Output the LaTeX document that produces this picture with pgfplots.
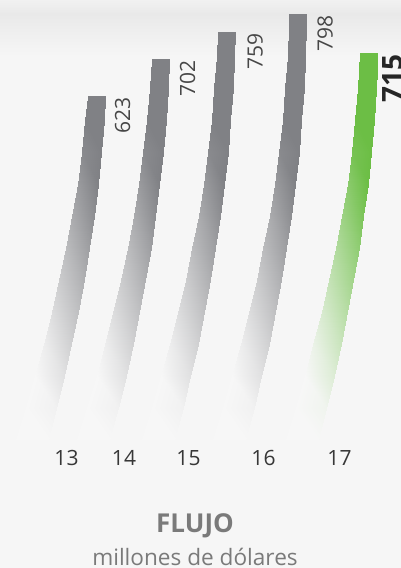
\documentclass[border=0pt]{standalone}
\usepackage{fontspec}
\setmainfont{Open Sans}
\usepackage{pgfplots}
\pgfplotsset{compat=1.18}
\usepackage{pgfplotstable}
\definecolor{bg}{RGB}{246,246,246}
\definecolor{bandgray}{RGB}{233,233,233}
\definecolor{toplight}{RGB}{241,241,241}
\definecolor{labgray}{RGB}{70,70,70}
\definecolor{tickgray}{RGB}{55,55,55}
\definecolor{titlegray}{RGB}{122,122,122}
\pgfplotsset{
  colormap={grayfade}{rgb255=(247,247,247) rgb255=(128,129,133)},
  colormap={greenfade}{rgb255=(247,247,247) rgb255=(108,190,69)}
}
% each bar: left and right edge x, y on the value scale, m = shade meta
\pgfplotstableread{
x y m
15.7 -111 -231
47.7 -111 -111
25.61 -42.7 -162.7
56.09 -42.7 -42.7
34.91 25.6 -94.4
63.87 25.6 25.6
43.6 93.9 -26.1
71.04 93.9 93.9
51.67 162.2 42.2
77.59 162.2 162.2
59.12 230.4 110.4
83.52 230.4 230.4
65.96 298.7 178.7
88.84 298.7 298.7
72.19 367.0 247.0
93.55 367.0 367.0
77.8 435.3 315.3
97.64 435.3 435.3
81.8 503.6 383.6
101.12 503.6 503.6
85.18 571.9 451.9
103.98 571.9 571.9
87.9 623 503
105.1 623 623
}\barA
\pgfplotstableread{
x y m
77.4 -111 -231
109.4 -111 -111
87.31 -42.7 -162.7
117.79 -42.7 -42.7
96.61 25.6 -94.4
125.57 25.6 25.6
105.3 93.9 -26.1
132.74 93.9 93.9
113.37 162.2 42.2
139.29 162.2 162.2
120.82 230.4 110.4
145.22 230.4 230.4
127.66 298.7 178.7
150.54 298.7 298.7
133.89 367.0 247.0
155.25 367.0 367.0
139.5 435.3 315.3
159.34 435.3 435.3
143.5 503.6 383.6
162.82 503.6 503.6
146.88 571.9 451.9
165.68 571.9 571.9
149.66 640.2 520.2
167.92 640.2 640.2
151.9 702 582
169.1 702 702
}\barB
\pgfplotstableread{
x y m
142.2 -111 -231
174.2 -111 -111
152.11 -42.7 -162.7
182.59 -42.7 -42.7
161.41 25.6 -94.4
190.37 25.6 25.6
170.1 93.9 -26.1
197.54 93.9 93.9
178.17 162.2 42.2
204.09 162.2 162.2
185.62 230.4 110.4
210.02 230.4 230.4
192.46 298.7 178.7
215.34 298.7 298.7
198.69 367.0 247.0
220.05 367.0 367.0
204.3 435.3 315.3
224.14 435.3 435.3
208.3 503.6 383.6
227.62 503.6 503.6
211.68 571.9 451.9
230.48 571.9 571.9
214.46 640.2 520.2
232.72 640.2 640.2
216.61 708.5 588.5
234.35 708.5 708.5
217.9 759 639
235.1 759 759
}\barC
\pgfplotstableread{
x y m
213.2 -111 -231
245.2 -111 -111
223.11 -42.7 -162.7
253.59 -42.7 -42.7
232.41 25.6 -94.4
261.37 25.6 25.6
241.1 93.9 -26.1
268.54 93.9 93.9
249.17 162.2 42.2
275.09 162.2 162.2
256.62 230.4 110.4
281.02 230.4 230.4
263.46 298.7 178.7
286.34 298.7 298.7
269.69 367.0 247.0
291.05 367.0 367.0
275.3 435.3 315.3
295.14 435.3 435.3
279.3 503.6 383.6
298.62 503.6 503.6
282.68 571.9 451.9
301.48 571.9 571.9
285.46 640.2 520.2
303.72 640.2 640.2
287.61 708.5 588.5
305.35 708.5 708.5
289.15 776.8 656.8
306.37 776.8 776.8
289.4 798 678
306.6 798 798
}\barD
\pgfplotstableread{
x y m
285.6 -111 -231
317.6 -111 -111
295.51 -42.7 -162.7
325.99 -42.7 -42.7
304.81 25.6 -94.4
333.77 25.6 25.6
313.5 93.9 -26.1
340.94 93.9 93.9
321.57 162.2 42.2
347.49 162.2 162.2
329.02 230.4 110.4
353.42 230.4 230.4
335.86 298.7 178.7
358.74 298.7 298.7
342.09 367.0 247.0
363.45 367.0 367.0
347.7 435.3 315.3
367.54 435.3 435.3
351.7 503.6 383.6
371.02 503.6 503.6
355.08 571.9 451.9
373.88 571.9 571.9
357.86 640.2 520.2
376.12 640.2 640.2
360.4 715 595
377.6 715 715
}\barE
\begin{document}
\begin{tikzpicture}
\useasboundingbox (0,0) rectangle (200.5pt,284pt);
\clip (0,0) rectangle (200.5pt,284pt);
\fill[bg] (0,0) rectangle (200.5pt,284pt);
\shade[top color=toplight, bottom color=bandgray] (0,277pt) rectangle (200.5pt,284pt);
\shade[top color=bandgray, bottom color=bg] (0,256pt) rectangle (200.5pt,277.02pt);
\begin{axis}[
  at={(0pt,0pt)}, anchor=south west,
  scale only axis, width=200.5pt, height=284pt,
  xmin=0, xmax=401, ymin=-384.2, ymax=828,
  hide axis, clip=false,
  point meta min=-68, point meta max=422,
]
\addplot[surf, shader=interp, colormap name=grayfade, mesh/cols=2, point meta=explicit] table[meta=m] {\barA};
\addplot[surf, shader=interp, colormap name=grayfade, mesh/cols=2, point meta=explicit] table[meta=m] {\barB};
\addplot[surf, shader=interp, colormap name=grayfade, mesh/cols=2, point meta=explicit] table[meta=m] {\barC};
\addplot[surf, shader=interp, colormap name=grayfade, mesh/cols=2, point meta=explicit] table[meta=m] {\barD};
\addplot[surf, shader=interp, colormap name=greenfade, mesh/cols=2, point meta=explicit] table[meta=m] {\barE};

\begin{scope}[every node/.style={inner sep=0pt, rotate=90, anchor=east, text=labgray, font=\fontsize{10.5}{12}\selectfont}]
\node at (axis cs:122.5,621) {623};
\node at (axis cs:187.5,700) {702};
\node at (axis cs:255,757) {759};
\node at (axis cs:325,796) {798};
\node[text=black!85, font=\bfseries\fontsize{14}{16}\selectfont] at (axis cs:392.5,713) {715};
\end{scope}

\begin{scope}[every node/.style={inner sep=0pt, anchor=base, text=tickgray, font=\fontsize{10.5}{12}\selectfont}]
\node at (axis cs:66.5,-164.4) {13};
\node at (axis cs:124,-164.4) {14};
\node at (axis cs:188.5,-164.4) {15};
\node at (axis cs:263.5,-164.4) {16};
\node at (axis cs:339.5,-164.4) {17};
\end{scope}

\node[inner sep=0pt, anchor=base, text=titlegray, font=\bfseries\fontsize{13}{15}\selectfont] at (axis cs:195,-309.5) {FLUJO};
\node[inner sep=0pt, anchor=base, text=titlegray, font=\fontsize{11.3}{13}\selectfont] at (axis cs:195,-377.8) {millones de dólares};
\end{axis}
\end{tikzpicture}
\end{document}
